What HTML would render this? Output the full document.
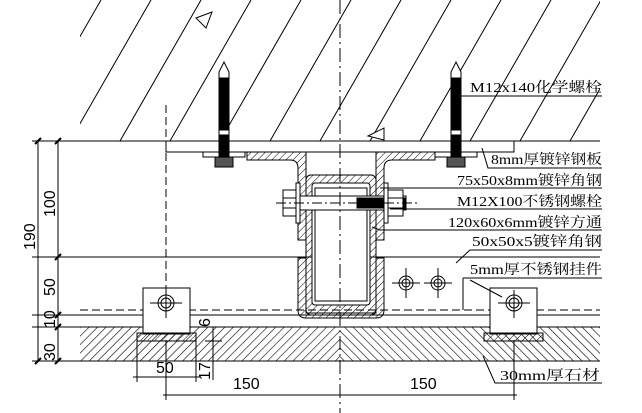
<!DOCTYPE html>
<html><head><meta charset="utf-8"><style>
html,body{margin:0;padding:0;background:#fff}
svg{display:block}
text{font-family:"Liberation Serif","Noto Serif CJK SC",serif;font-size:14px;fill:#000}
.d{font-family:"Liberation Sans",sans-serif;font-size:16px}
</style></head><body>
<svg width="642" height="413" viewBox="0 0 642 413" xmlns="http://www.w3.org/2000/svg" stroke="#000" fill="none" stroke-width="1">
<defs>
<clipPath id="cc"><rect x="80" y="0" width="520" height="141"/></clipPath>
<clipPath id="sl"><rect x="80" y="327" width="260" height="34"/></clipPath>
<clipPath id="sr"><rect x="340" y="327" width="260" height="34"/></clipPath>
<pattern id="pl" width="6" height="6" patternUnits="userSpaceOnUse" patternTransform="rotate(45)"><line x1="0" y1="0" x2="0" y2="6" stroke-width="1.2"/></pattern>
<pattern id="pr" width="6" height="6" patternUnits="userSpaceOnUse" patternTransform="rotate(-45)"><line x1="0" y1="0" x2="0" y2="6" stroke-width="1.2"/></pattern>
<pattern id="ph" width="5" height="5" patternUnits="userSpaceOnUse" patternTransform="rotate(45)"><line x1="0" y1="0" x2="0" y2="5"/></pattern>
</defs>
<g clip-path="url(#cc)">
<line x1="20" y1="141" x2="101" y2="0"/><line x1="70" y1="141" x2="151" y2="0"/><line x1="120" y1="141" x2="201" y2="0"/><line x1="170" y1="141" x2="251" y2="0"/><line x1="220" y1="141" x2="301" y2="0"/><line x1="270" y1="141" x2="351" y2="0"/><line x1="320" y1="141" x2="401" y2="0"/><line x1="370" y1="141" x2="451" y2="0"/><line x1="420" y1="141" x2="501" y2="0"/><line x1="470" y1="141" x2="551" y2="0"/><line x1="520" y1="141" x2="601" y2="0"/><line x1="570" y1="141" x2="651" y2="0"/>
</g>
<path d="M196 18 L212 12 L206 28 Z" fill="#fff"/>
<path d="M368 136 L384 128 L384 140 Z" fill="#fff"/>
<line x1="32" y1="141" x2="600" y2="141"/>
<line x1="32" y1="257" x2="600" y2="257"/>
<line x1="80" y1="310" x2="600" y2="310" stroke-dasharray="8,4"/>
<line x1="32" y1="315" x2="600" y2="315"/>
<line x1="32" y1="327" x2="600" y2="327"/>
<line x1="32" y1="361" x2="600" y2="361"/>
<rect x="80" y="327" width="260" height="34" fill="url(#pl)" stroke="none" clip-path="url(#sl)"/>
<rect x="340" y="327" width="260" height="34" fill="url(#pr)" stroke="none" clip-path="url(#sr)"/>
<rect x="166" y="141" width="348" height="11" fill="#fff"/>
<rect x="203" y="152" width="42" height="5" fill="#fff"/>
<rect x="435" y="152" width="42" height="5" fill="#fff"/>
<path d="M247 152 H306 V240 H298 V168 Q298 160 290 160 H247 Z" fill="url(#ph)"/>
<path d="M435 152 H376 V240 H384 V168 Q384 160 392 160 H435 Z" fill="url(#ph)"/>
<path d="M298 258 H306 V313 H340 V318 H306 Q298 318 298 310 Z" fill="url(#ph)"/>
<path d="M384 258 H376 V313 H340 V318 H376 Q384 318 384 310 Z" fill="url(#ph)"/>
<rect x="306" y="175" width="70" height="140" rx="5" fill="url(#ph)"/>
<rect x="312" y="183" width="58" height="122" rx="3" fill="#fff"/>
<rect x="315" y="188" width="52" height="113" fill="#fff"/>
<rect x="296" y="196" width="110" height="14" fill="#fff"/>
<rect x="357" y="198" width="48" height="10" fill="#000"/>
<rect x="283" y="190" width="13" height="26" fill="#fff"/>
<line x1="283" y1="198" x2="296" y2="198"/><line x1="283" y1="208" x2="296" y2="208"/>
<rect x="296" y="183" width="4" height="40" fill="#fff"/>
<rect x="384" y="183" width="4" height="40" fill="#fff"/>
<rect x="388" y="190" width="15" height="26" fill="#fff"/>
<line x1="388" y1="198" x2="403" y2="198"/><line x1="388" y1="208" x2="403" y2="208"/>
<line x1="276" y1="203" x2="420" y2="203" stroke-dasharray="10,3,2,3"/>
<g>
<path d="M219 72 L224 62 L229 72 V165 H219 Z" fill="#fff"/>
<rect x="220" y="78" width="8" height="52" fill="#000"/>
<rect x="220" y="135" width="8" height="32" fill="#000"/>
<rect x="215" y="157" width="18" height="10" fill="#555"/>
<path d="M451 72 L456 62 L461 72 V165 H451 Z" fill="#fff"/>
<rect x="452" y="78" width="8" height="52" fill="#000"/>
<rect x="452" y="135" width="8" height="32" fill="#000"/>
<rect x="447" y="157" width="18" height="10" fill="#555"/>
</g>
<line x1="340" y1="0" x2="340" y2="413" stroke-dasharray="14,4,2,4"/>
<g>
<circle cx="406" cy="283" r="7"/><circle cx="406" cy="283" r="4"/><line x1="392" y1="283" x2="420" y2="283"/><line x1="406" y1="268" x2="406" y2="298"/>
<circle cx="438" cy="283" r="7"/><circle cx="438" cy="283" r="4"/><line x1="424" y1="283" x2="452" y2="283"/><line x1="438" y1="268" x2="438" y2="298"/>
</g>
<line x1="463" y1="278" x2="463" y2="310"/>
<rect x="143" y="288" width="47" height="46" fill="#fff"/>
<rect x="137" y="333" width="59" height="8" fill="url(#ph)"/>
<circle cx="166" cy="303" r="8"/><circle cx="166" cy="303" r="5"/>
<line x1="150" y1="303" x2="182" y2="303"/><line x1="166" y1="290" x2="166" y2="318"/>
<line x1="166" y1="105" x2="166" y2="300" stroke-dasharray="8,4"/>
<rect x="490" y="288" width="47" height="46" fill="#fff"/>
<rect x="484" y="333" width="59" height="8" fill="url(#ph)"/>
<circle cx="514" cy="303" r="8"/><circle cx="514" cy="303" r="5"/>
<line x1="498" y1="303" x2="530" y2="303"/><line x1="514" y1="290" x2="514" y2="318"/>
<line x1="38" y1="141" x2="38" y2="361"/>
<line x1="58" y1="141" x2="58" y2="361"/>
<line x1="32" y1="257" x2="72" y2="257"/>
<line x1="32" y1="315" x2="72" y2="315"/>
<g stroke-width="2"><line x1="35" y1="144" x2="41" y2="138"/><line x1="35" y1="364" x2="41" y2="358"/><line x1="55" y1="144" x2="61" y2="138"/><line x1="55" y1="260" x2="61" y2="254"/><line x1="55" y1="318" x2="61" y2="312"/><line x1="55" y1="330" x2="61" y2="324"/><line x1="55" y1="364" x2="61" y2="358"/></g>
<g stroke="none">
<text class="d" transform="translate(35,250) rotate(-90)">190</text>
<text class="d" transform="translate(55,217) rotate(-90)">100</text>
<text class="d" transform="translate(55,296) rotate(-90)">50</text>
<text class="d" transform="translate(55,328) rotate(-90)">10</text>
<text class="d" transform="translate(55,361) rotate(-90)">30</text>
<text class="d" transform="translate(210,327) rotate(-90)">6</text>
<text class="d" transform="translate(210,380) rotate(-90)">17</text>
<text class="d" x="156" y="373">50</text>
<text class="d" x="233" y="389">150</text>
<text class="d" x="410" y="389">150</text>
</g>
<line x1="213" y1="327" x2="213" y2="380"/>
<line x1="205" y1="327" x2="222" y2="327"/><line x1="205" y1="341" x2="222" y2="341"/>
<line x1="137" y1="341" x2="137" y2="382"/><line x1="196" y1="341" x2="196" y2="382"/>
<line x1="133" y1="377" x2="200" y2="377"/>
<line x1="166" y1="340" x2="166" y2="400"/>
<line x1="514" y1="340" x2="514" y2="400"/>
<line x1="163" y1="395" x2="517" y2="395"/>
<line x1="458" y1="96" x2="602" y2="96"/>
<polyline points="482,148 488,168 602,168"/>
<line x1="380" y1="188" x2="602" y2="188"/>
<line x1="390" y1="209" x2="602" y2="209"/>
<polyline points="372,227 380,230 602,230"/>
<polyline points="456,263 470,250 602,250"/>
<line x1="463" y1="278" x2="602" y2="278"/>
<line x1="502" y1="297" x2="470" y2="280"/>
<polyline points="483,356 495,383 602,383"/>
<g stroke="none">
<text x="470" y="92" textLength="132" lengthAdjust="spacingAndGlyphs">M12x140化学螺栓</text>
<text x="491" y="164" textLength="111" lengthAdjust="spacingAndGlyphs">8mm厚镀锌钢板</text>
<text x="457" y="185" textLength="145" lengthAdjust="spacingAndGlyphs">75x50x8mm镀锌角钢</text>
<text x="457" y="206" textLength="145" lengthAdjust="spacingAndGlyphs">M12X100不锈钢螺栓</text>
<text x="448" y="227" textLength="154" lengthAdjust="spacingAndGlyphs">120x60x6mm镀锌方通</text>
<text x="472" y="246" textLength="130" lengthAdjust="spacingAndGlyphs">50x50x5镀锌角钢</text>
<text x="470" y="274" textLength="132" lengthAdjust="spacingAndGlyphs">5mm厚不锈钢挂件</text>
<text x="500" y="380" textLength="100" lengthAdjust="spacingAndGlyphs">30mm厚石材</text>
</g>
</svg>
</body></html>
